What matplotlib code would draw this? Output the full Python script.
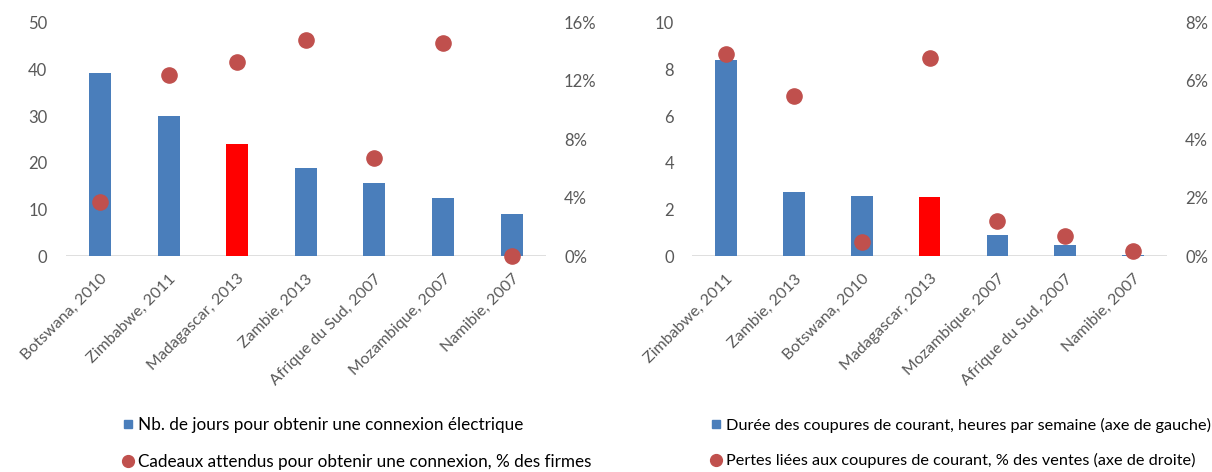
import matplotlib
matplotlib.use("Agg")
import matplotlib.pyplot as plt
from matplotlib.lines import Line2D
from matplotlib.ticker import FuncFormatter

plt.rcParams['font.family'] = ['Lato', 'DejaVu Sans']

# Left chart data
left_cats = ["Botswana, 2010", "Zimbabwe, 2011", "Madagascar, 2013", "Zambie, 2013",
             "Afrique du Sud, 2007", "Mozambique, 2007", "Namibie, 2007"]
left_days = [39.1, 30.0, 24.0, 19.0, 15.8, 12.6, 9.1]
left_gifts = [3.7, 12.4, 13.3, 14.8, 6.7, 14.6, 0.0]

# Right chart data
right_cats = ["Zimbabwe, 2011", "Zambie, 2013", "Botswana, 2010", "Madagascar, 2013",
              "Mozambique, 2007", "Afrique du Sud, 2007", "Namibie, 2007"]
right_hours = [8.4, 2.74, 2.58, 2.53, 0.92, 0.47, 0.05]
right_losses = [6.91, 5.5, 0.5, 6.8, 1.22, 0.71, 0.2]

left_legend = ["Nb. de jours pour obtenir une connexion électrique",
               "Cadeaux attendus pour obtenir une connexion, % des firmes"]
right_legend = ["Durée des coupures de courant, heures par semaine (axe de gauche)",
                "Pertes liées aux coupures de courant, % des ventes (axe de droite)"]

BLUE = "#4A7EBB"
RED_BAR = "#FF0000"
DOT = "#C0504D"
GRID = "#D9D9D9"
TXT = "#595959"

fig = plt.figure(figsize=(12.12, 4.72), dpi=100)


def make_panel(rect, cats, bars, dots, ymax, ystep, y2max, y2step, highlight,
               legend_labels, leg_x, leg_fs):
    ax = fig.add_axes(rect)
    x = list(range(len(cats)))
    colors = [RED_BAR if c == highlight else BLUE for c in cats]
    ax.bar(x, bars, width=0.32, color=colors, zorder=2)
    ax.set_xlim(-0.5, len(cats) - 0.5)
    ax.set_ylim(0, ymax)
    ax.set_yticks([i * ystep for i in range(int(round(ymax / ystep)) + 1)])
    ax.axhline(0, color=GRID, lw=1.2, zorder=1)
    for s in ax.spines.values():
        s.set_visible(False)
    ax.tick_params(axis='y', length=0, pad=13, labelsize=12, labelcolor=TXT)
    ax.tick_params(axis='x', length=0, pad=11)
    ax.set_xticks(x)
    ax.set_xticklabels(cats, rotation=45, ha='right', va='top', rotation_mode='anchor',
                       fontsize=11.5, color=TXT)
    ax2 = ax.twinx()
    ax2.scatter(x, dots, s=120, color=DOT, zorder=3, clip_on=False)
    ax2.set_ylim(0, y2max)
    ax2.set_yticks([i * y2step for i in range(int(round(y2max / y2step)) + 1)])
    ax2.yaxis.set_major_formatter(FuncFormatter(lambda v, p: f"{v:.0f}%"))
    for s in ax2.spines.values():
        s.set_visible(False)
    ax2.tick_params(axis='y', length=0, pad=13, labelsize=12, labelcolor=TXT)
    handles = [Line2D([], [], marker='s', linestyle='none', color=BLUE, markersize=6),
               Line2D([], [], marker='o', linestyle='none', color=DOT, markersize=8.5)]
    fig.legend(handles, legend_labels, loc='center left',
               bbox_to_anchor=(leg_x, 0.061 - 0.1, 0.4, 0.2),
               frameon=False, fontsize=leg_fs, labelspacing=1.25, handletextpad=0.15,
               handlelength=0.9, borderaxespad=0, borderpad=0)
    return ax, ax2


make_panel([0.0541, 0.4566, 0.3964, 0.4958], left_cats, left_days, left_gifts,
           50, 10, 16, 4, "Madagascar, 2013", left_legend, 0.099, 12.3)
make_panel([0.571, 0.4566, 0.3919, 0.4958], right_cats, right_hours, right_losses,
           10, 2, 8, 2, "Madagascar, 2013", right_legend, 0.585, 11.7)

fig.savefig("out.png", dpi=100)
